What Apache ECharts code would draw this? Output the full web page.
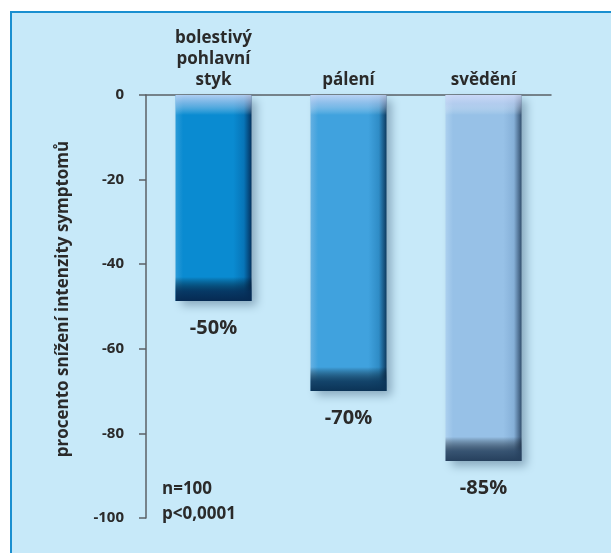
<!DOCTYPE html>
<html>
<head>
<meta charset="utf-8">
<script src="https://cdn.jsdelivr.net/npm/echarts@6/dist/echarts.min.js"></script>
<style>
html,body{margin:0;padding:0;background:#fff;}
#c{width:611px;height:553px;}
</style>
</head>
<body>
<div id="c"></div>
<script>
// ---- data ----
const categories = ['bolestivý\npohlavní\nstyk', 'pálení', 'svědění'];
const values = [-48.7, -70, -86.5];
const valueLabels = ['-50%', '-70%', '-85%'];
const yAxisName = 'procento snížení intenzity symptomů';
const noteLines = ['n=100', 'p<0,0001'];

// ---- styles ----
const FONT = 'Open Sans';
const TXT = '#2a2a2a';
const barStyles = [
  { left: '#2c9bd8', base: '#0a8bd1', mid: '#0775b8', right: '#04325f', bottom: '#062a52' },
  { left: '#65b0e2', base: '#40a2de', mid: '#2f8cc6', right: '#0d3a60', bottom: '#0b3356' },
  { left: '#acd0ef', base: '#97c1e7', mid: '#86b0d8', right: '#34506f', bottom: '#26405d' }
];
const PX_PER_UNIT = 423 / 100;

function hGrad(s) {
  return new echarts.graphic.LinearGradient(0, 0, 1, 0, [
    { offset: 0, color: s.left },
    { offset: 0.1, color: s.base },
    { offset: 0.76, color: s.base },
    { offset: 0.9, color: s.mid },
    { offset: 1, color: s.right }
  ]);
}
function vGrad(s, v) {
  const h = Math.abs(v) * PX_PER_UNIT;
  const top = 20 / h, bot = 24 / h;
  return new echarts.graphic.LinearGradient(0, 0, 0, 1, [
    { offset: 0, color: 'rgba(215,222,250,0.8)' },
    { offset: top * 0.45, color: 'rgba(205,215,245,0.5)' },
    { offset: top, color: 'rgba(255,255,255,0)' },
    { offset: 1 - bot, color: 'rgba(0,0,0,0)' },
    { offset: 1 - bot * 0.4, color: echarts.color.modifyAlpha(s.bottom, 0.85) },
    { offset: 1, color: s.bottom }
  ]);
}

const chart = echarts.init(document.getElementById('c'), null, { renderer: 'canvas' });
chart.setOption({
  backgroundColor: '#ffffff',
  animation: false,
  textStyle: { fontFamily: FONT },
  graphic: [
    {
      type: 'rect', z: -100, silent: true,
      shape: { x: 11, y: 12, width: 700, height: 700 },
      style: { fill: '#c7e9f9', stroke: '#1a8fd0', lineWidth: 2 }
    },
    {
      type: 'text', z: 100, x: 63, y: 299, rotation: Math.PI / 2,
      style: { text: yAxisName, font: 'bold 17px "Open Sans"', fill: TXT, align: 'center', verticalAlign: 'middle' }
    },
    {
      type: 'text', z: 100, x: 162, y: 489,
      style: { text: noteLines[0], font: 'bold 17px "Open Sans"', fill: TXT, verticalAlign: 'middle' }
    },
    {
      type: 'text', z: 100, x: 162, y: 514,
      style: { text: noteLines[1], font: 'bold 17px "Open Sans"', fill: TXT, verticalAlign: 'middle' }
    }
  ],
  grid: { left: 146, right: 60, top: 95, bottom: 35, containLabel: false },
  xAxis: {
    type: 'category',
    position: 'top',
    data: categories,
    axisLine: { show: true, onZero: false, lineStyle: { color: '#5b6066', width: 1.5 } },
    axisTick: { show: false },
    axisLabel: {
      fontFamily: FONT, fontSize: 17, fontWeight: 'bold', color: TXT,
      lineHeight: 21, margin: 4
    }
  },
  yAxis: {
    type: 'value',
    min: -100, max: 0, interval: 20,
    axisLine: { show: true, lineStyle: { color: '#5b6066', width: 1.5 } },
    axisTick: { show: true, length: 7, lineStyle: { color: '#5b6066', width: 1.5 } },
    splitLine: { show: false },
    axisLabel: { fontFamily: FONT, fontSize: 15, fontWeight: 'bold', color: TXT, margin: 22 }
  },
  series: [
    {
      type: 'bar',
      barWidth: 76,
      barGap: '-100%',
      data: values.map((v, i) => ({
        value: v,
        itemStyle: {
          color: hGrad(barStyles[i]),
          shadowBlur: 9, shadowOffsetX: 5, shadowOffsetY: 5,
          shadowColor: 'rgba(20,50,80,0.35)'
        }
      })),
      label: {
        show: true,
        position: 'bottom',
        distance: 17,
        formatter: p => valueLabels[p.dataIndex],
        fontFamily: FONT, fontSize: 20, fontWeight: 'bold', color: TXT
      }
    },
    {
      type: 'bar',
      barWidth: 76,
      barGap: '-100%',
      silent: true,
      data: values.map((v, i) => ({
        value: v,
        itemStyle: { color: vGrad(barStyles[i], v) }
      }))
    }
  ]
});
</script>
</body>
</html>
